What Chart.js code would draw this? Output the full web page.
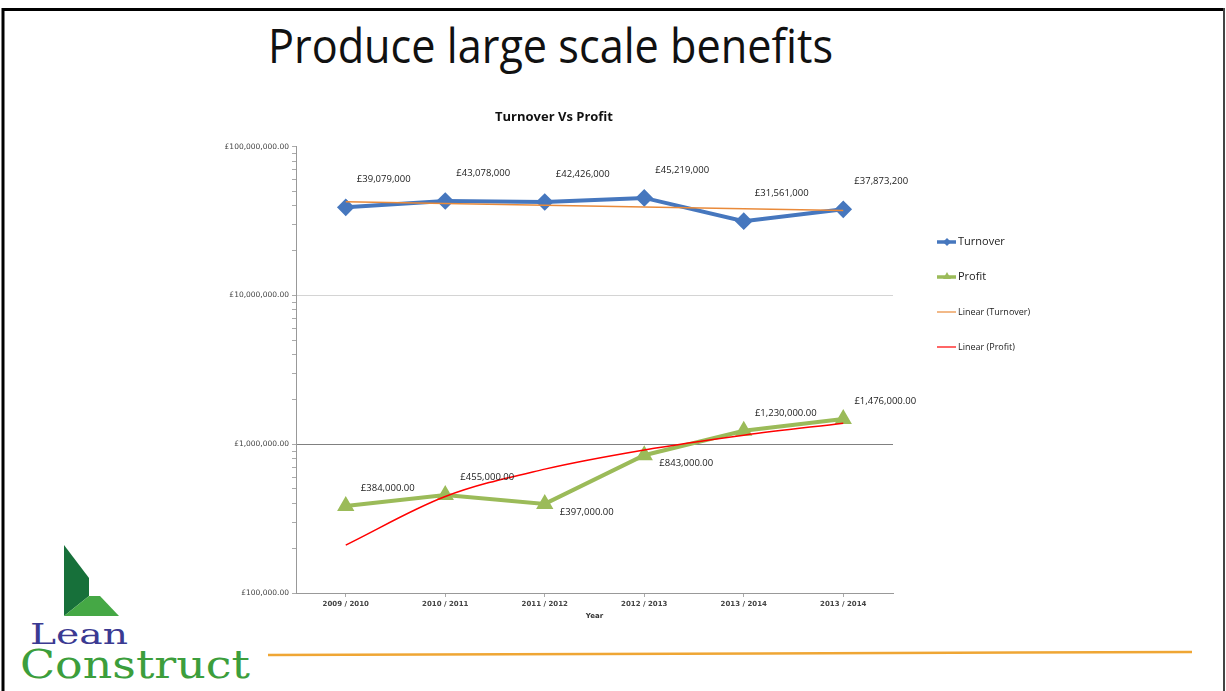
<!DOCTYPE html>
<html>
<head>
<meta charset="utf-8">
<title>Turnover Vs Profit</title>
<script src="https://cdn.jsdelivr.net/npm/chart.js@4.4.1/dist/chart.umd.min.js"></script>
<style>
  html, body { margin: 0; padding: 0; background: #fff; }
  body { width: 1226px; height: 691px; position: relative; overflow: hidden; }
  #slide { position: absolute; left: 0; top: 0; }
  #chartBox { position: absolute; left: 215px; top: 100px; width: 905px; height: 530px; }
</style>
</head>
<body>
<svg id="slide" width="1226" height="691">
  <!-- slide frame -->
  <line x1="3" y1="8" x2="3" y2="691" stroke="#000" stroke-width="3"/>
  <line x1="2" y1="9.5" x2="1225" y2="9.5" stroke="#000" stroke-width="3"/>
  <line x1="1224" y1="8" x2="1224" y2="691" stroke="#444" stroke-width="2"/>
  <text x="268" y="63" font-family="Open Sans" font-size="47" fill="#111"
        textLength="565" lengthAdjust="spacingAndGlyphs">Produce large scale benefits</text>
  <!-- logo -->
  <polygon points="64,545 89,578 89,596 64,616" fill="#17703a"/>
  <polygon points="89,596 100,596 119,616 64,616" fill="#45a845"/>
  <text x="30" y="644" font-family="DejaVu Serif" font-size="27" fill="#3b3a92"
        textLength="98" lengthAdjust="spacingAndGlyphs">Lean</text>
  <text x="20" y="678" font-family="DejaVu Serif" font-size="39" fill="#3c9e3c"
        textLength="230" lengthAdjust="spacingAndGlyphs">Construct</text>
  <line x1="268" y1="655" x2="1192" y2="652" stroke="#EFA634" stroke-width="2.5"/>
</svg>
<div id="chartBox"><canvas id="turnoverChart"></canvas></div>
<script>
// values
const years = ["2009 / 2010", "2010 / 2011", "2011 / 2012", "2012 / 2013", "2013 / 2014", "2013 / 2014"];
const turnover = [39079000, 43078000, 42426000, 45219000, 31561000, 37873200];
const profit = [384000, 455000, 397000, 843000, 1230000, 1476000];
const turnoverTrend = [42570000, 41490000, 40410000, 39330000, 38250000, 37170000];
const profitTrend = [210000, 445000, 680000, 915000, 1150000, 1385000];
const yTickValues = [100000, 1000000, 10000000, 100000000];
const yTickLabels = ["£100,000.00", "£1,000,000.00", "£10,000,000.00", "£100,000,000.00"];

// where each profit label sits relative to its point
const profitLabelSide = ["above", "above", "below", "below", "above", "above"];

const BLUE = "#4677BE";
const GREEN = "#9BBB59";
const ORANGE = "#E98A3A";
const RED = "#FF0000";

const fmtTurnover = (v) => "£" + v.toLocaleString("en-GB");
const fmtProfit = (v) =>
  "£" + v.toLocaleString("en-GB", { minimumFractionDigits: 2, maximumFractionDigits: 2 });

// data labels next to the points, Excel style
const pointLabels = {
  id: "pointLabels",
  afterDatasetsDraw(chart) {
    const ctx = chart.ctx;
    ctx.save();
    ctx.font = "9.5px 'Open Sans'";
    ctx.fillStyle = "#222";
    ctx.textAlign = "center";
    ctx.textBaseline = "middle";
    chart.getDatasetMeta(0).data.forEach((pt, i) => {
      ctx.fillText(fmtTurnover(turnover[i]), pt.x + 38, pt.y - 28);
    });
    chart.getDatasetMeta(1).data.forEach((pt, i) => {
      const dy = profitLabelSide[i] === "below" ? 8 : -18;
      ctx.fillText(fmtProfit(profit[i]), pt.x + 42, pt.y + dy);
    });
    ctx.restore();
  },
};

// legend on the right, drawn by hand to match the slide
const sideLegend = {
  id: "sideLegend",
  afterDraw(chart) {
    const ctx = chart.ctx;
    const x0 = 722;
    const items = [
      { y: 142, ds: 0, font: "11px 'Open Sans'", width: 3.5 },
      { y: 177, ds: 1, font: "11px 'Open Sans'", width: 3.5 },
      { y: 212, ds: 2, font: "9px 'Open Sans'", width: 1.2 },
      { y: 247, ds: 3, font: "9px 'Open Sans'", width: 1.2 },
    ];
    ctx.save();
    items.forEach((it) => {
      const ds = chart.data.datasets[it.ds];
      ctx.strokeStyle = ds.borderColor;
      ctx.lineWidth = it.width;
      ctx.beginPath();
      ctx.moveTo(x0, it.y);
      ctx.lineTo(x0 + 19, it.y);
      ctx.stroke();
      ctx.fillStyle = ds.borderColor;
      if (ds.pointStyle === "rectRot") {
        ctx.beginPath();
        ctx.moveTo(x0 + 10, it.y - 4);
        ctx.lineTo(x0 + 14, it.y);
        ctx.lineTo(x0 + 10, it.y + 4);
        ctx.lineTo(x0 + 6, it.y);
        ctx.fill();
      } else if (ds.pointStyle === "triangle") {
        ctx.beginPath();
        ctx.moveTo(x0 + 10, it.y - 5);
        ctx.lineTo(x0 + 14, it.y + 2);
        ctx.lineTo(x0 + 6, it.y + 2);
        ctx.fill();
      }
      ctx.font = it.font;
      ctx.fillStyle = "#222";
      ctx.textAlign = "left";
      ctx.textBaseline = "middle";
      ctx.fillText(ds.label, x0 + 21, it.y);
    });
    ctx.restore();
  },
};

const ctx = document.getElementById("turnoverChart").getContext("2d");
new Chart(ctx, {
  type: "line",
  data: {
    labels: years,
    datasets: [
      {
        label: "Turnover",
        data: turnover,
        borderColor: BLUE,
        backgroundColor: BLUE,
        borderWidth: 4,
        pointStyle: "rectRot",
        pointRadius: 6,
        order: 1,
      },
      {
        label: "Profit",
        data: profit,
        borderColor: GREEN,
        backgroundColor: GREEN,
        borderWidth: 4,
        pointStyle: "triangle",
        pointRadius: 6,
        order: 1,
      },
      {
        label: "Linear (Turnover)",
        data: turnoverTrend,
        borderColor: ORANGE,
        borderWidth: 1.5,
        pointRadius: 0,
        order: 0,
      },
      {
        label: "Linear (Profit)",
        data: profitTrend,
        borderColor: RED,
        borderWidth: 1.5,
        pointRadius: 0,
        tension: 0.4,
        cubicInterpolationMode: "monotone",
        order: 0,
      },
    ],
  },
  options: {
    responsive: true,
    maintainAspectRatio: false,
    animation: false,
    layout: { padding: { top: 0, left: 0, right: 227, bottom: 0 } },
    plugins: {
      legend: { display: false },
      tooltip: { enabled: false },
      title: {
        display: true,
        text: "Turnover Vs Profit",
        color: "#111",
        font: { family: "Open Sans", size: 13, weight: "bold" },
        padding: { top: 9, bottom: 22 },
      },
    },
    scales: {
      x: {
        offset: true,
        afterFit: (scale) => { scale.height = 37; },
        grid: { drawOnChartArea: false, offset: false, tickLength: 4, tickColor: "#aaa" },
        border: { color: "#999" },
        ticks: {
          color: "#444",
          padding: 3,
          maxRotation: 0,
          font: { family: "DejaVu Sans", size: 7, weight: "bold" },
        },
        title: {
          display: true,
          text: "Year",
          color: "#333",
          font: { family: "DejaVu Sans", size: 7, weight: "bold" },
          padding: { top: 0, bottom: 10 },
        },
      },
      y: {
        type: "logarithmic",
        min: 100000,
        max: 100000000,
        afterFit: (scale) => { scale.width = 81; },
        afterBuildTicks: (scale) => {
          scale.ticks = scale.ticks.filter((t) => {
            const m = t.value / Math.pow(10, Math.floor(Math.log10(t.value) + 1e-9));
            return Math.abs(m - Math.round(m)) < 1e-6;
          });
        },
        border: { color: "#999" },
        grid: {
          tickLength: 4,
          tickColor: "#aaa",
          color: (c) => {
            const v = c.tick && c.tick.value;
            if (v === 10000000) return "#d4d4d4";
            if (v === 1000000) return "#808080";
            return "rgba(0,0,0,0)";
          },
        },
        ticks: {
          autoSkip: false,
          color: "#444",
          padding: 3,
          font: { family: "DejaVu Sans", size: 7.5 },
          callback: (v) => {
            const i = yTickValues.indexOf(v);
            return i >= 0 ? yTickLabels[i] : "";
          },
        },
      },
    },
  },
  plugins: [pointLabels, sideLegend],
});
</script>
</body>
</html>
